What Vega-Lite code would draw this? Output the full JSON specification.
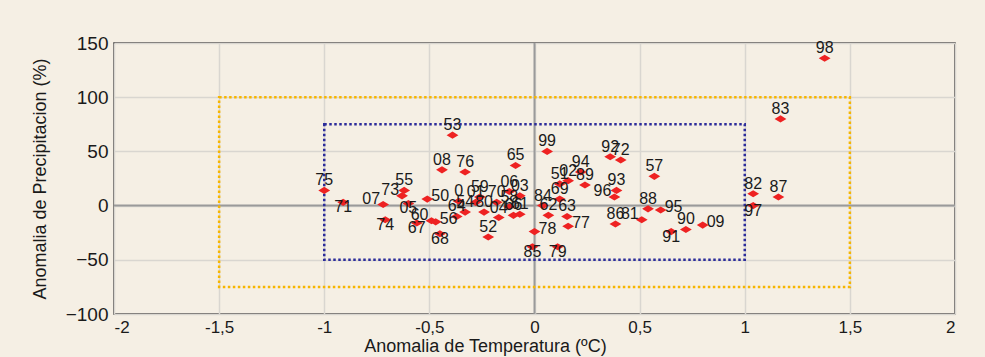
{
  "$schema": "https://vega.github.io/schema/vega-lite/v6.json",
  "width": 841,
  "height": 271,
  "autosize": {"type": "none"},
  "padding": {"left": 114, "top": 43, "right": 30, "bottom": 43},
  "background": "#f5efe4",
  "config": {
    "view": {"stroke": "#3a3a3a", "strokeWidth": 1.5},
    "axis": {
      "labelFont": "Liberation Sans",
      "titleFont": "Liberation Sans",
      "labelColor": "#1a1a1a",
      "titleColor": "#1a1a1a",
      "titleFontWeight": "normal",
      "gridColor": "#d9d6d0",
      "gridWidth": 1.5,
      "domain": false,
      "ticks": false
    }
  },
  "datasets": {
    "pts": [
      {"x": -1.0, "y": 14, "label": "75"},
      {"x": -0.91, "y": 3, "label": "71"},
      {"x": -0.72, "y": 1, "label": "07"},
      {"x": -0.63, "y": 9, "label": "73"},
      {"x": -0.62, "y": 14, "label": "55"},
      {"x": -0.6, "y": 2, "label": "05"},
      {"x": -0.71, "y": -13, "label": "74"},
      {"x": -0.49, "y": -14, "label": "60"},
      {"x": -0.47, "y": -15, "label": "56"},
      {"x": -0.56, "y": -16, "label": "67"},
      {"x": -0.45, "y": -26, "label": "68"},
      {"x": -0.51, "y": 6, "label": "50"},
      {"x": -0.39, "y": 65, "label": "53"},
      {"x": -0.44, "y": 33, "label": "08"},
      {"x": -0.33, "y": 31, "label": "76"},
      {"x": -0.09, "y": 37, "label": "65"},
      {"x": 0.06, "y": 50, "label": "99"},
      {"x": -0.36, "y": 4, "label": "0"},
      {"x": -0.26, "y": 8, "label": "59"},
      {"x": -0.28, "y": 3, "label": "01"},
      {"x": -0.18, "y": 3, "label": "70"},
      {"x": -0.12, "y": -1, "label": "58"},
      {"x": -0.12, "y": 13, "label": "06"},
      {"x": -0.07, "y": 9, "label": "03"},
      {"x": -0.37, "y": -10, "label": "64"},
      {"x": -0.33, "y": -6, "label": "54"},
      {"x": -0.24, "y": -6, "label": "80"},
      {"x": -0.17, "y": -11, "label": "04"},
      {"x": -0.1, "y": -9, "label": "66"},
      {"x": -0.07, "y": -8, "label": "61"},
      {"x": -0.22, "y": -29, "label": "52"},
      {"x": 0.0, "y": -24, "label": "78"},
      {"x": -0.01, "y": -38, "label": "85"},
      {"x": 0.11, "y": -38, "label": "79"},
      {"x": 0.16, "y": -19, "label": "77"},
      {"x": 0.155, "y": -10, "label": "63"},
      {"x": 0.066, "y": -9, "label": "62"},
      {"x": 0.04, "y": 0, "label": "84"},
      {"x": 0.12, "y": 6, "label": "69"},
      {"x": 0.12, "y": 20, "label": "51"},
      {"x": 0.16, "y": 23, "label": "02"},
      {"x": 0.22, "y": 31, "label": "94"},
      {"x": 0.24, "y": 19, "label": "89"},
      {"x": 0.36, "y": 45, "label": "92"},
      {"x": 0.41, "y": 42, "label": "72"},
      {"x": 0.39, "y": 14, "label": "93"},
      {"x": 0.38, "y": 8, "label": "96"},
      {"x": 0.385, "y": -17, "label": "86"},
      {"x": 0.51, "y": -13, "label": "81"},
      {"x": 0.57, "y": 27, "label": "57"},
      {"x": 0.54, "y": -3, "label": "88"},
      {"x": 0.6, "y": -4, "label": "95"},
      {"x": 0.72, "y": -22, "label": "90"},
      {"x": 0.65, "y": -24, "label": "91"},
      {"x": 0.8, "y": -18, "label": "09"},
      {"x": 1.38, "y": 136, "label": "98"},
      {"x": 1.17, "y": 80, "label": "83"},
      {"x": 1.04, "y": 11, "label": "82"},
      {"x": 1.16, "y": 8, "label": "87"},
      {"x": 1.04, "y": 0, "label": "97"}
    ],
    "boxes": [
      {"x1": -1.5, "x2": 1.5, "y1": -75, "y2": 100, "kind": "outer"},
      {"x1": -1, "x2": 1, "y1": -50, "y2": 75, "kind": "inner"}
    ]
  },
  "layer": [
    {
      "data": {"name": "pts"},
      "mark": {"type": "point", "opacity": 0},
      "encoding": {
        "x": {
          "field": "x", "type": "quantitative",
          "scale": {"domain": [-2, 2], "nice": false, "zero": false},
          "axis": {
            "values": [-2, -1.5, -1, -0.5, 0, 0.5, 1, 1.5, 2],
            "labelExpr": "replace(toString(datum.value), '.', ',')",
            "labelFontSize": 17,
            "labelPadding": 5,
            "title": "Anomalia de Temperatura (ºC)",
            "titleFontSize": 18,
            "titleBaseline": "alphabetic",
            "titleY": 37,
            "titleX": 371
          }
        },
        "y": {
          "field": "y", "type": "quantitative",
          "scale": {"domain": [-100, 150], "nice": false},
          "axis": {
            "values": [-100, -75, -50, -25, 0, 25, 50, 75, 100, 125, 150],
            "labelFontSize": 19,
            "labelPadding": 6,
            "title": "Anomalia de Precipitacion (%)",
            "titleFontSize": 18,
            "titlePadding": 16
          }
        }
      }
    },
    {
      "data": {"values": [{"v": 0}]},
      "mark": {"type": "rule", "color": "#9a9a9a", "strokeWidth": 2},
      "encoding": {"x": {"field": "v", "type": "quantitative"}}
    },
    {
      "data": {"values": [{"v": 0}]},
      "mark": {"type": "rule", "color": "#9a9a9a", "strokeWidth": 2},
      "encoding": {"y": {"field": "v", "type": "quantitative"}}
    },
    {
      "data": {"name": "boxes"},
      "mark": {"type": "rect", "fillOpacity": 0, "strokeWidth": 2.5, "strokeDash": [2.5, 2.5]},
      "encoding": {
        "x": {"field": "x1", "type": "quantitative"},
        "x2": {"field": "x2"},
        "y": {"field": "y1", "type": "quantitative"},
        "y2": {"field": "y2"},
        "stroke": {
          "field": "kind", "type": "nominal",
          "scale": {"domain": ["outer", "inner"], "range": ["#f7b600", "#2c2c9a"]},
          "legend": null
        }
      }
    },
    {
      "data": {"name": "pts"},
      "mark": {"type": "point", "shape": "M-1,0L0,-0.6L1,0L0,0.6Z", "size": 140, "filled": true, "color": "#ee2222", "opacity": 1},
      "encoding": {
        "x": {"field": "x", "type": "quantitative"},
        "y": {"field": "y", "type": "quantitative"}
      }
    },
    {
      "data": {"name": "pts"},
      "transform": [{"filter": {"not": {"field": "label", "oneOf": ["71", "74", "67", "68", "85", "79", "91", "97", "05", "73", "07", "60", "96", "81", "56", "50", "78", "77", "09", "95"]}}}],
      "mark": {"type": "text", "font": "Liberation Sans", "fontSize": 16, "color": "#1a1a1a", "align": "center", "baseline": "middle", "dy": -10},
      "encoding": {
        "x": {"field": "x", "type": "quantitative"},
        "y": {"field": "y", "type": "quantitative"},
        "text": {"field": "label"}
      }
    },
    {
      "data": {"name": "pts"},
      "transform": [{"filter": {"field": "label", "oneOf": ["71", "74", "67", "68", "85", "79", "91", "97", "05"]}}],
      "mark": {"type": "text", "font": "Liberation Sans", "fontSize": 16, "color": "#1a1a1a", "align": "center", "baseline": "middle", "dy": 5},
      "encoding": {
        "x": {"field": "x", "type": "quantitative"},
        "y": {"field": "y", "type": "quantitative"},
        "text": {"field": "label"}
      }
    },
    {
      "data": {"name": "pts"},
      "transform": [{"filter": {"field": "label", "oneOf": ["73", "07", "60", "96", "81"]}}],
      "mark": {"type": "text", "font": "Liberation Sans", "fontSize": 16, "color": "#1a1a1a", "align": "right", "baseline": "middle", "dx": -3, "dy": -6},
      "encoding": {
        "x": {"field": "x", "type": "quantitative"},
        "y": {"field": "y", "type": "quantitative"},
        "text": {"field": "label"}
      }
    },
    {
      "data": {"name": "pts"},
      "transform": [{"filter": {"field": "label", "oneOf": ["56", "50", "78", "77", "09", "95"]}}],
      "mark": {"type": "text", "font": "Liberation Sans", "fontSize": 16, "color": "#1a1a1a", "align": "left", "baseline": "middle", "dx": 4, "dy": -3},
      "encoding": {
        "x": {"field": "x", "type": "quantitative"},
        "y": {"field": "y", "type": "quantitative"},
        "text": {"field": "label"}
      }
    }
  ]
}
